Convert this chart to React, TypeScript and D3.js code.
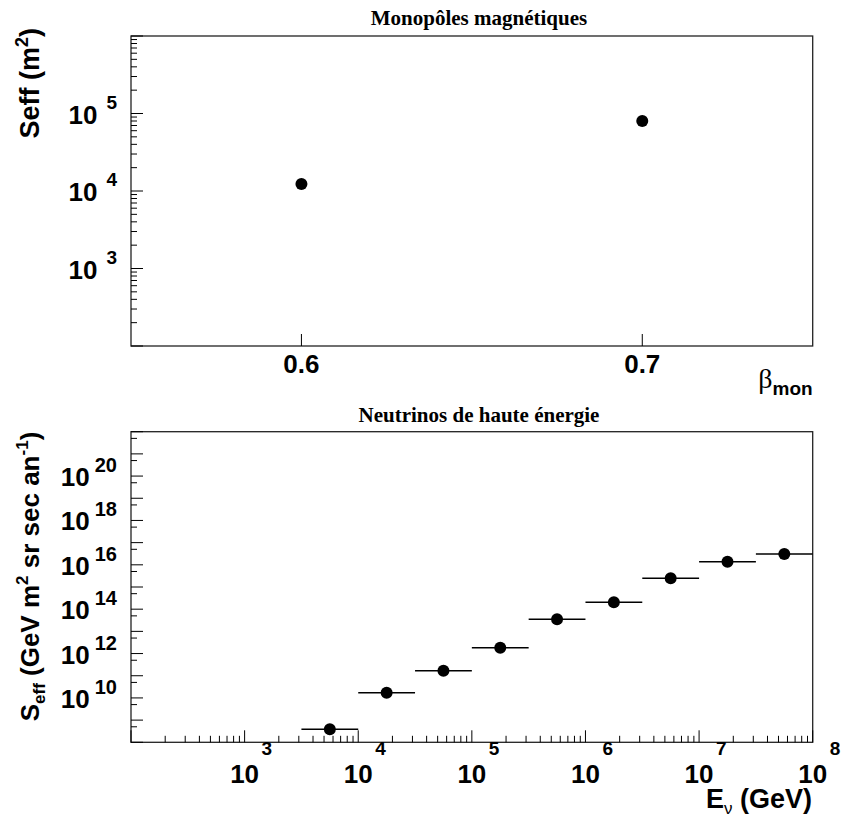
import React from "react";
import * as d3 from "d3";

// ---- Data ----
const monoBeta = [0.6, 0.7];
const monoSeff = [1.23e4, 8.0e4];

const nuEnergyLow = [3162, 10000, 31623, 100000, 316228, 1000000, 3162278, 10000000, 31622777];
const nuEnergyHigh = [10000, 31623, 100000, 316228, 1000000, 3162278, 10000000, 31622777, 100000000];
const nuEnergyCenter = [5623, 17783, 56234, 177828, 562341, 1778279, 5623413, 17782794, 56234133];
const nuSeff = [3.85e8, 1.72e10, 1.69e11, 1.83e12, 3.49e13, 2.04e14, 2.46e15, 1.38e16, 3.06e16];

const topXTicks = [0.6, 0.7];
const topXTickLabels = ["0.6", "0.7"];
const topYLabelExps = [3, 4, 5];
const botYLabelExps = [10, 12, 14, 16, 18, 20];
const botXLabelExps = [3, 4, 5, 6, 7, 8];

const SANS = "'Liberation Sans', Arial, Helvetica, sans-serif";
const SERIF = "'Liberation Serif', 'Times New Roman', serif";

const FL = 131, FR = 812.7;
const T_TOP = 36, T_BOT = 346;
const B_TOP = 431.7, B_BOT = 742.3;

function logTicks(lo: number, hi: number, minors: number[]) {
  const major: number[] = [];
  const minor: number[] = [];
  for (let e = lo; e <= hi; e++) {
    major.push(Math.pow(10, e));
    if (e < hi) for (const m of minors) minor.push(m * Math.pow(10, e));
  }
  return { major, minor };
}

export default function App() {
  // top panel scales
  const xT = d3.scaleLinear().domain([0.55, 0.75]).range([FL, FR]);
  const yT = d3.scaleLog().domain([1e2, 1e6]).range([T_BOT, T_TOP]);
  // bottom panel scales
  const xB = d3.scaleLog().domain([1e2, 1e8]).range([FL, FR]);
  const yB = d3.scaleLog().domain([1e8, 1e22]).range([B_BOT, B_TOP]);

  const tY = logTicks(2, 6, [2, 3, 4, 5, 6, 7, 8, 9]);
  const bX = logTicks(2, 8, [2, 3, 4, 5, 6, 7, 8, 9]);
  const bY = logTicks(8, 22, [5]);

  const tickStroke = { stroke: "#000", strokeWidth: 1 };
  const frame = { fill: "none", stroke: "#222", strokeWidth: 1.3 };

  return (
    <svg
      width={841}
      height={821}
      style={{ position: "absolute", left: 0, top: 0, background: "#fff" }}
      xmlns="http://www.w3.org/2000/svg"
    >
      <rect x={0} y={0} width={841} height={821} fill="#fff" />

      {/* ===== Top panel ===== */}
      <text x={479} y={25} textAnchor="middle" fontFamily={SERIF} fontWeight="bold" fontSize={21}>
        Monopôles magnétiques
      </text>
      <rect x={FL} y={T_TOP} width={FR - FL} height={T_BOT - T_TOP} {...frame} />
      {tY.major.map((v, i) => (
        <line key={"tym" + i} x1={FL} x2={FL + 12} y1={yT(v)} y2={yT(v)} {...tickStroke} />
      ))}
      {tY.minor.map((v, i) => (
        <line key={"tyn" + i} x1={FL} x2={FL + 6} y1={yT(v)} y2={yT(v)} {...tickStroke} />
      ))}
      {topYLabelExps.map((e) => (
        <text key={"tyl" + e} x={117} y={yT(Math.pow(10, e)) + 10} textAnchor="end" fontFamily={SANS} fontWeight="bold">
          <tspan fontSize={26}>10</tspan>
          <tspan fontSize={19} dx={9} dy={-15}>{e}</tspan>
        </text>
      ))}
      {topXTicks.map((v, i) => (
        <g key={"txt" + i}>
          <line x1={xT(v)} x2={xT(v)} y1={T_BOT} y2={T_BOT - 12} {...tickStroke} />
          <text x={xT(v)} y={373} textAnchor="middle" fontFamily={SANS} fontWeight="bold" fontSize={26}>
            {topXTickLabels[i]}
          </text>
        </g>
      ))}
      <text transform="translate(39,28) rotate(-90)" textAnchor="end" fontFamily={SANS} fontWeight="bold" fontSize={27}>
        <tspan>Seff (m</tspan>
        <tspan fontSize={18} dy={-11}>2</tspan>
        <tspan dy={11}>)</tspan>
      </text>
      <text x={812.7} y={388} textAnchor="end">
        <tspan fontFamily={SERIF} fontSize={28}>β</tspan>
        <tspan fontFamily={SANS} fontWeight="bold" fontSize={19} dy={7}>mon</tspan>
      </text>
      {monoBeta.map((b, i) => (
        <circle key={"mp" + i} cx={xT(b)} cy={yT(monoSeff[i])} r={6} fill="#000" />
      ))}

      {/* ===== Bottom panel ===== */}
      <text x={479} y={421.7} textAnchor="middle" fontFamily={SERIF} fontWeight="bold" fontSize={21}>
        Neutrinos de haute énergie
      </text>
      <rect x={FL} y={B_TOP} width={FR - FL} height={B_BOT - B_TOP} {...frame} />
      {bY.major.map((v, i) => (
        <line key={"bym" + i} x1={FL} x2={FL + 12} y1={yB(v)} y2={yB(v)} {...tickStroke} />
      ))}
      {bY.minor.map((v, i) => (
        <line key={"byn" + i} x1={FL} x2={FL + 6} y1={yB(v)} y2={yB(v)} {...tickStroke} />
      ))}
      {botYLabelExps.map((e) => (
        <text key={"byl" + e} x={117} y={yB(Math.pow(10, e)) + 10} textAnchor="end" fontFamily={SANS} fontWeight="bold">
          <tspan fontSize={26}>10</tspan>
          <tspan fontSize={20} dx={5} dy={-14}>{e}</tspan>
        </text>
      ))}
      {bX.major.map((v, i) => (
        <line key={"bxm" + i} x1={xB(v)} x2={xB(v)} y1={B_BOT} y2={B_BOT - 12} {...tickStroke} />
      ))}
      {bX.minor.map((v, i) => (
        <line key={"bxn" + i} x1={xB(v)} x2={xB(v)} y1={B_BOT} y2={B_BOT - 6.5} {...tickStroke} />
      ))}
      {botXLabelExps.map((e) => (
        <g key={"bxl" + e}>
          <text x={xB(Math.pow(10, e))} y={783} textAnchor="middle" fontFamily={SANS} fontWeight="bold" fontSize={26}>
            10
          </text>
          <text x={xB(Math.pow(10, e)) + 17} y={755} fontFamily={SANS} fontWeight="bold" fontSize={19}>
            {e}
          </text>
        </g>
      ))}
      <text transform="translate(38.5,431.7) rotate(-90)" textAnchor="end" fontFamily={SANS} fontWeight="bold" fontSize={26}>
        <tspan>S</tspan>
        <tspan fontSize={17} dy={6}>eff</tspan>
        <tspan dy={-6}> (GeV m</tspan>
        <tspan fontSize={17} dy={-11}>2</tspan>
        <tspan dy={11}> sr sec an</tspan>
        <tspan fontSize={17} dy={-11}>-1</tspan>
        <tspan dy={11}>)</tspan>
      </text>
      <text x={812} y={808} textAnchor="end" fontFamily={SANS} fontWeight="bold" fontSize={27}>
        <tspan>E</tspan>
        <tspan fontSize={17} fontWeight="normal" dy={6}>ν</tspan>
        <tspan dy={-6}> (GeV)</tspan>
      </text>
      {nuEnergyCenter.map((e, i) => (
        <g key={"np" + i}>
          <line
            x1={xB(nuEnergyLow[i])}
            x2={xB(nuEnergyHigh[i])}
            y1={yB(nuSeff[i])}
            y2={yB(nuSeff[i])}
            stroke="#000"
            strokeWidth={1.5}
          />
          <circle cx={xB(e)} cy={yB(nuSeff[i])} r={6} fill="#000" />
        </g>
      ))}
    </svg>
  );
}
